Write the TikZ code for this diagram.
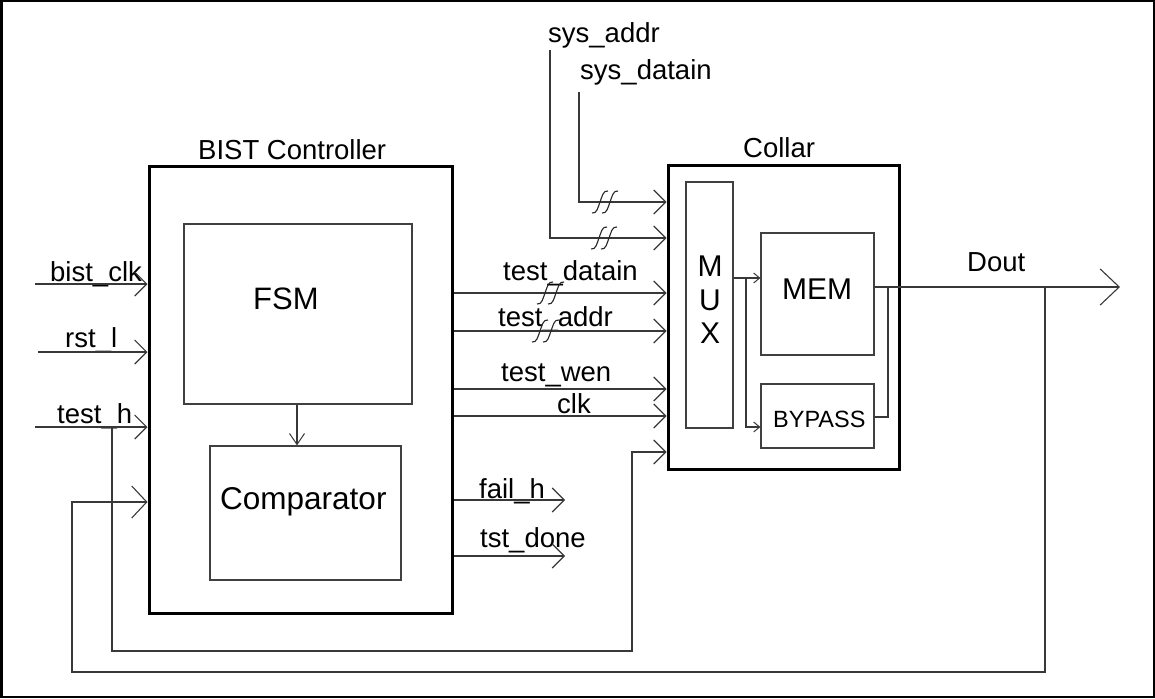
\documentclass[tikz,border=0pt]{standalone}
\usepackage{fontspec}
\setmainfont{Liberation Sans}
\usetikzlibrary{arrows.meta}
\begin{document}
\begin{tikzpicture}[x=1pt,y=-1pt,
  sig/.style={line width=1.1pt, draw=black!78},
  arr/.style={-{Straight Barb[length=12pt,width=24pt,line width=1.1pt]}},
  arrbig/.style={-{Straight Barb[length=15pt,width=32pt,line width=1.1pt]}},
  arrdout/.style={-{Straight Barb[length=19pt,width=36pt,line width=1.1pt]}},
  arrsmall/.style={-{Straight Barb[length=6pt,width=10pt,line width=1pt]}},
  arrmid/.style={-{Straight Barb[length=11pt,width=15pt,line width=1pt]}},
  heavybox/.style={draw=black, line width=3pt, inner sep=0pt},
  lightbox/.style={draw=black!75, line width=1.2pt, inner sep=0pt},
  lbl/.style={anchor=base west, inner sep=0pt, font=\fontsize{27.5}{30}\selectfont},
  brk/.pic={\draw[line width=1.1pt, black!85] (-8,11) .. controls (-3,12) and (-2,5) .. (0,0) .. controls (2,-5) and (3,-12) .. (8,-11);}
]
\useasboundingbox (0,0) rectangle (1155,698);
\draw[line width=2.5pt] (1.25,1.25) rectangle (1153.75,696.75);

% boxes
\node[heavybox, minimum width=303, minimum height=447] (bist) at (300.5,389.5) {};
\node[lightbox, minimum width=228, minimum height=180] (fsm) at (298,314) {};
\node[lightbox, minimum width=191, minimum height=134] (comp) at (305.5,513) {};
\node[heavybox, minimum width=231, minimum height=304] (collar) at (783.5,317) {};
\node[lightbox, minimum width=47, minimum height=246] (mux) at (709.5,305) {};
\node[lightbox, minimum width=113, minimum height=122] (mem) at (817.5,294) {};
\node[lightbox, minimum width=113, minimum height=64] (byp) at (817.5,416) {};

% box texts
\node[lbl] (tbist) at (198,159) {BIST Controller};
\node[lbl] (tcollar) at (743,157) {Collar};
\node[lbl, font=\fontsize{31}{33}\selectfont] (tfsm) at (253,309) {FSM};
\node[lbl, font=\fontsize{31.5}{33}\selectfont] (tcomp) at (220,509) {Comparator};
\node[lbl, font=\fontsize{30}{32}\selectfont] (tmem) at (782,299) {MEM};
\node[lbl, font=\fontsize{23.5}{26}\selectfont] (tbyp) at (773,427) {BYPASS};
\node[anchor=base, inner sep=0pt, font=\fontsize{30}{32}\selectfont] (tm) at (710,276) {M};
\node[anchor=base, inner sep=0pt, font=\fontsize{30}{32}\selectfont] (tu) at (710,310) {U};
\node[anchor=base, inner sep=0pt, font=\fontsize{30}{32}\selectfont] (tx) at (710,343) {X};

% signal labels
\node[lbl] (lsa) at (548,43) {sys\_addr};
\node[lbl] (lsd) at (580,80) {sys\_datain};
\node[lbl] (lbc) at (50,281) {bist\_clk};
\node[lbl] (lrst) at (65,347) {rst\_l};
\node[lbl] (lth) at (57,423) {test\_h};
\node[lbl] (ltd) at (503,280) {test\_datain};
\node[lbl] (lta) at (498,326) {test\_addr};
\node[lbl] (ltw) at (501,381) {test\_wen};
\node[lbl] (lclk) at (557,413) {clk};
\node[lbl] (lfail) at (479,498) {fail\_h};
\node[lbl] (ldone) at (480,547) {tst\_done};
\node[lbl] (ldout) at (967,271) {Dout};

% free ends
\coordinate (inclk) at (35,284);
\coordinate (inrst) at (38,352);
\coordinate (inth) at (35,427);
\coordinate (thdown) at (112,651);
\coordinate (thright) at (632,651);
\coordinate (thup) at (632,452);
\coordinate (sa) at (550,50);
\coordinate (sd) at (579,92);
\coordinate (failend) at (565,500);
\coordinate (doneend) at (565,556);
\coordinate (dout) at (1120,287);
\coordinate (fbtop) at (1045,287);
\coordinate (fbdown) at (1045,672);
\coordinate (fbleft) at (72,672);
\coordinate (fbup) at (72,502);
\coordinate (fc) at (297,0);
\coordinate (muxb) at (746,278);
\coordinate (bypc) at (888,417);

% inputs to BIST
\draw[sig, arr] (inclk) -- (bist.west |- inclk);
\draw[sig, arr] (inrst) -- (bist.west |- inrst);
\draw[sig, arr] (inth) -- (bist.west |- inth);
\draw[sig, arr] (112,427) -- (thdown) -- (thright) -- (thup) -- (collar.west |- thup);

% FSM to comparator
\draw[sig, arrmid] (fsm.south -| fc) -- (comp.north -| fc);

% BIST to collar
\draw[sig, arr] (bist.east |- 0,293) -- (collar.west |- 0,293);
\draw[sig, arr] (bist.east |- 0,331) -- (collar.west |- 0,331);
\draw[sig, arr] (bist.east |- 0,389) -- (collar.west |- 0,389);
\draw[sig, arr] (bist.east |- 0,416) -- (collar.west |- 0,416);

% BIST outputs
\draw[sig, arr] (bist.east |- failend) -- (failend);
\draw[sig, arr] (bist.east |- doneend) -- (doneend);

% system inputs
\draw[sig, arr] (sa) |- (collar.west |- 0,238);
\draw[sig, arr] (sd) |- (collar.west |- 0,202);

% break marks
\pic at (600,202) {brk};
\pic at (610,202) {brk};
\pic at (599,238) {brk};
\pic at (609,238) {brk};
\pic at (545,293) {brk};
\pic at (556,293) {brk};
\pic at (540,331) {brk};
\pic at (551,331) {brk};

% inside collar
\draw[sig, arrsmall] (mux.east |- muxb) -- (mem.west |- muxb);
\draw[sig, arrsmall] (muxb) |- (byp.west |- 0,427);
\draw[sig, arrdout] (mem.east |- dout) -- (dout);
\draw[sig] (byp.east |- bypc) -- (bypc) -- (888,287);

% feedback
\draw[sig, arrbig] (fbtop) -- (fbdown) -- (fbleft) -- (fbup) -- (bist.west |- fbup);
\end{tikzpicture}
\end{document}
